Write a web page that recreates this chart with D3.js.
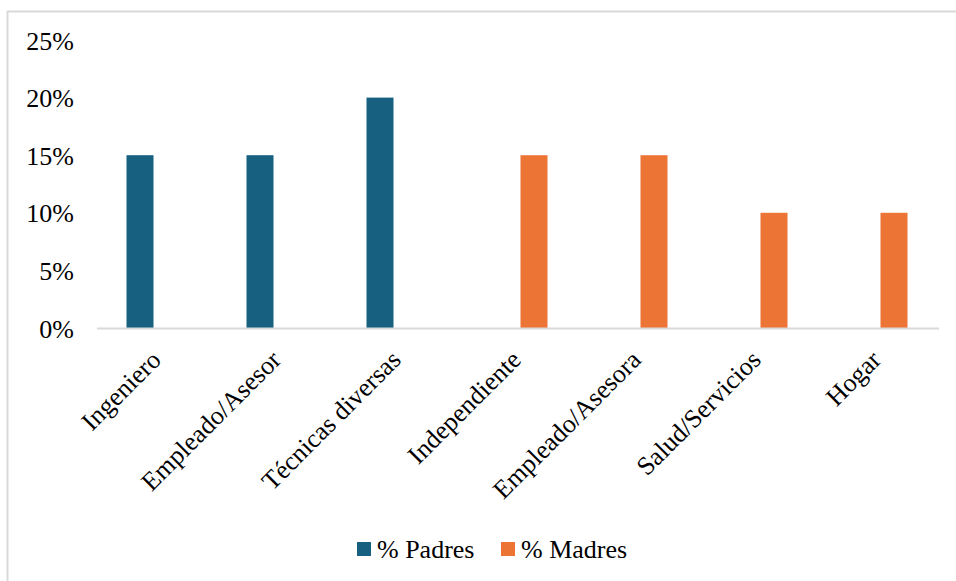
<!DOCTYPE html>
<html>
<head>
<meta charset="utf-8">
<script src="https://cdn.jsdelivr.net/npm/d3@7"></script>
<style>
  html, body { margin: 0; padding: 0; background: #fff; }
  svg { display: block; }
</style>
</head>
<body>
<svg id="chart" width="956" height="581"></svg>
<script>
// Occupation categories and the share of fathers / mothers in each
const categories = ["Ingeniero", "Empleado/Asesor", "Técnicas diversas", "Independiente",
                    "Empleado/Asesora", "Salud/Servicios", "Hogar"];
const padres = [0.15, 0.15, 0.20, 0, 0, 0, 0];
const madres = [0, 0, 0, 0.15, 0.15, 0.10, 0.10];
const seriesNames = ["% Padres", "% Madres"];
const seriesColors = ["#17607f", "#ec7434"];
const yTicks = [0, 0.05, 0.10, 0.15, 0.20, 0.25];

const FONT = "'Liberation Serif', 'Times New Roman', serif";
const svg = d3.select("#chart");

// Chart frame
svg.append("rect")
  .attr("x", 7.5).attr("y", 11.5)
  .attr("width", 1000).attr("height", 1000)
  .attr("fill", "none").attr("stroke", "#d9d9d9").attr("stroke-width", 2);

const plot = { left: 97, right: 937, top: 40, bottom: 328 };

const x = d3.scaleBand().domain(categories).range([plot.left, plot.right]).padding(0);
const y = d3.scaleLinear().domain([0, 0.25]).range([plot.bottom, plot.top]);

const barW = 27;
const offset = 17; // distance from category centre to each series' bar centre

const rows = categories.map((c, i) => ({ cat: c, values: [padres[i], madres[i]] }));

// Bars
seriesNames.forEach((name, s) => {
  svg.append("g")
    .selectAll("rect")
    .data(rows.filter(r => r.values[s] > 0))
    .join("rect")
    .attr("x", d => x(d.cat) + x.bandwidth() / 2 + (s === 0 ? -offset : offset) - barW / 2)
    .attr("y", d => y(d.values[s]))
    .attr("width", barW)
    .attr("height", d => y(0) - y(d.values[s]))
    .attr("fill", seriesColors[s]);
});

// Category axis line
svg.append("line")
  .attr("x1", plot.left).attr("x2", plot.right + 2)
  .attr("y1", y(0) + 0.5).attr("y2", y(0) + 0.5)
  .attr("stroke", "#d9d9d9").attr("stroke-width", 2);

// Value axis labels
const yAxis = d3.axisLeft(y).tickValues(yTicks).tickFormat(d3.format(".0%")).tickSize(0).tickPadding(0);
const yg = svg.append("g").attr("transform", `translate(74,0)`).call(yAxis);
yg.select(".domain").remove();
yg.attr("font-family", null).attr("font-size", null);
yg.selectAll("text")
  .style("font-family", FONT)
  .style("font-size", "26px")
  .attr("fill", "#000")
  .attr("dy", "0.35em");

// Category labels, rotated
svg.append("g")
  .selectAll("text")
  .data(categories)
  .join("text")
  .attr("transform", d => `translate(${x(d) + x.bandwidth() / 2 - 1},${plot.bottom + 27}) rotate(-45)`)
  .attr("text-anchor", "end")
  .attr("dy", "0.35em")
  .style("font-family", FONT)
  .style("font-size", "26px")
  .attr("fill", "#000")
  .text(d => d);

// Legend
const legend = svg.append("g");
const legendX = [357, 501];
seriesNames.forEach((name, s) => {
  legend.append("rect")
    .attr("x", legendX[s]).attr("y", 542)
    .attr("width", 14).attr("height", 14)
    .attr("fill", seriesColors[s]);
  legend.append("text")
    .attr("x", legendX[s] + 20).attr("y", 549)
    .attr("dy", "0.35em")
    .style("font-family", FONT)
    .style("font-size", "26px")
    .attr("fill", "#000")
    .text(name);
});
</script>
</body>
</html>
